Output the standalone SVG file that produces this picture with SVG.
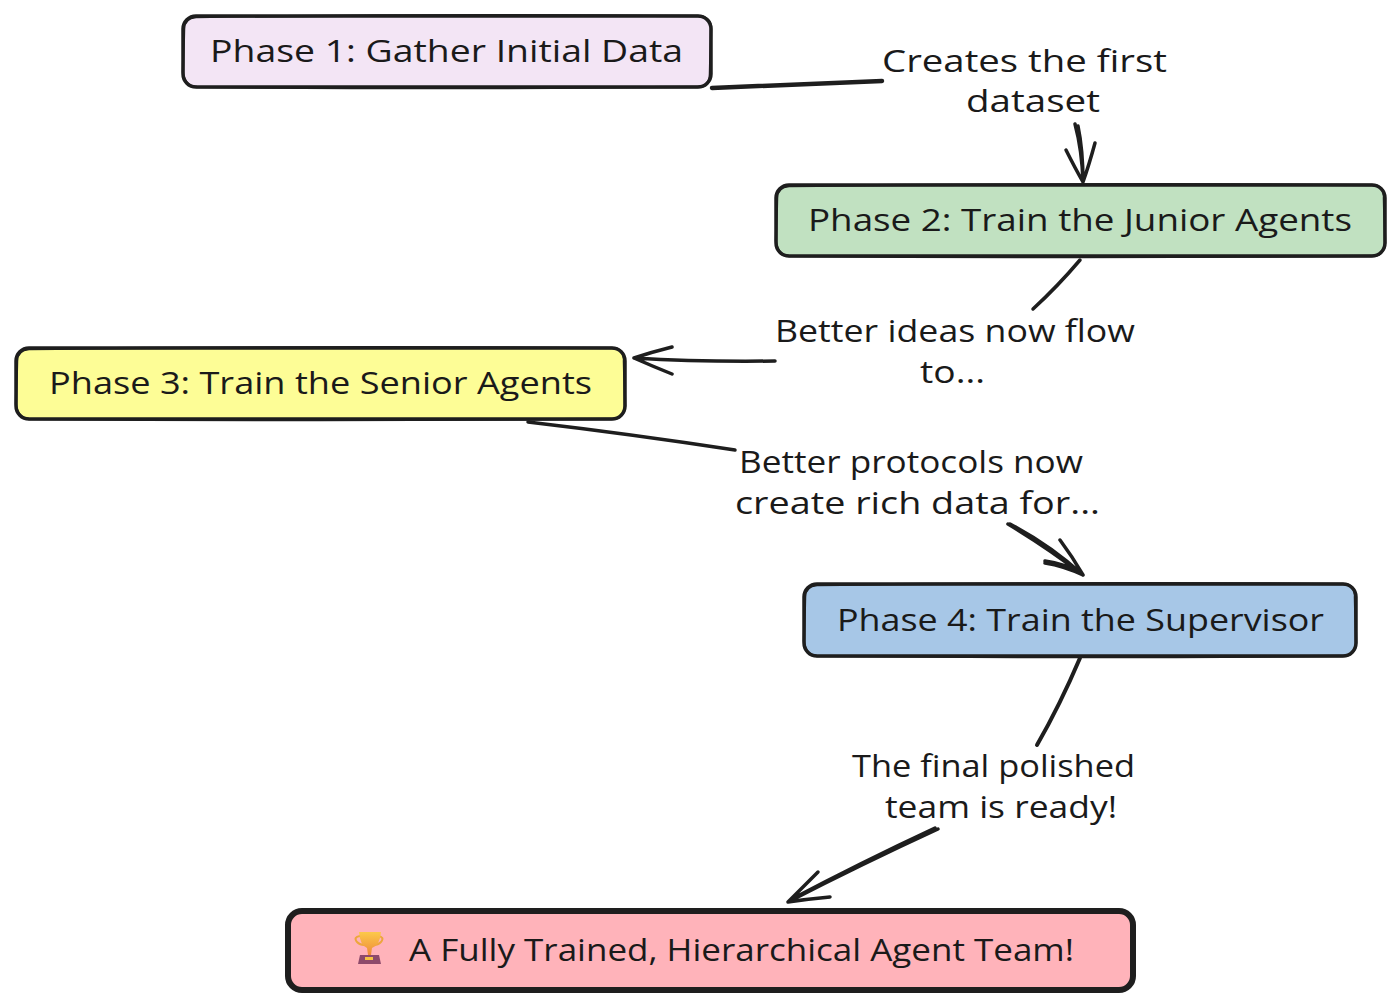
<svg xmlns="http://www.w3.org/2000/svg" width="1400" height="1006" viewBox="0 0 1400 1006">
<style>
text{font-family:"Open Sans","Liberation Sans",sans-serif;font-size:31px;fill:#1a1a1a;letter-spacing:0}
.box{stroke:#1e1e1e;stroke-width:3.5;stroke-linejoin:round;stroke-linecap:round}
.sk{fill:none;stroke:#1e1e1e;stroke-width:2.5;stroke-linecap:round}
.c{fill:none;stroke:#1e1e1e;stroke-width:3.5;stroke-linecap:round;stroke-linejoin:round}
</style>
<defs>
<linearGradient id="gold" x1="0" y1="0" x2="0" y2="1"><stop offset="0" stop-color="#fcc94a"/><stop offset="1" stop-color="#ee8a3a"/></linearGradient>
</defs>
<rect width="1400" height="1006" fill="#fff"/>
<g id="connectors">
<path class="c" style="stroke-width:4.5" d="M712 88 L882 81"/>
<path class="c" d="M1075 124 Q1082 150 1083 182 M1078 126 Q1083 150 1083 182 M1066 150 Q1075 168 1083 182 M1095 143 Q1089 165 1083 182"/>
<path class="c" d="M1080 260 Q1058 286 1033 309"/>
<path class="c" d="M775 361 Q700 362 634 358 M672 347 Q652 352 634 358 M672 374 Q652 366 634 358"/>
<path class="c" d="M528 422 Q630 434 735 450"/>
<path class="c" d="M1008 524 Q1048 548 1083 575 M1010 524 Q1050 545 1083 575 M1060 540 Q1072 556 1083 575 M1045 563 Q1064 566 1083 575 M1045 561 Q1064 564 1080 572"/>
<path class="c" style="stroke-width:4" d="M1080 658 Q1060 705 1037 745"/>
<path class="c" d="M938 829 Q862 864 788 902 M935 828 Q862 862 790 900 M818 872 Q802 888 788 902 M830 897 Q808 899 788 902"/>
</g>
<g id="phase1">
<rect class="box" x="183" y="16" width="528" height="71" rx="13" fill="#f3e5f5"/>
<path class="sk" d="M196 17 Q450 14 698 16 Q712 17 711 30 L710 74 Q710 87 697 87 Q450 89 197 87 Q184 86 183 72 L184 29 Q184 18 196 17"/>
<text x="210" y="62" textLength="473" lengthAdjust="spacingAndGlyphs">Phase 1: Gather Initial Data</text>
</g>
<g id="phase2">
<rect class="box" x="776" y="185" width="609" height="71" rx="13" fill="#c1e1c1"/>
<path class="sk" d="M789 186 Q1080 183 1372 185 Q1385 186 1384 198 L1385 243 Q1384 256 1371 256 Q1080 258 789 256 Q777 255 776 241 L777 198 Q777 187 789 186"/>
<text x="808" y="231" textLength="544" lengthAdjust="spacingAndGlyphs">Phase 2: Train the Junior Agents</text>
</g>
<g id="phase3">
<rect class="box" x="16" y="348" width="609" height="71" rx="13" fill="#fdfd96"/>
<path class="sk" d="M29 349 Q320 346 612 348 Q625 349 624 361 L625 406 Q624 419 611 419 Q320 421 29 419 Q17 418 16 404 L17 361 Q17 350 29 349"/>
<text x="49" y="394" textLength="543" lengthAdjust="spacingAndGlyphs">Phase 3: Train the Senior Agents</text>
</g>
<g id="phase4">
<rect class="box" x="804" y="584" width="552" height="72" rx="13" fill="#a7c7e7"/>
<path class="sk" d="M817 585 Q1080 582 1343 584 Q1356 585 1355 597 L1356 643 Q1355 656 1342 656 Q1080 658 817 656 Q805 655 804 641 L805 597 Q805 586 817 585"/>
<text x="837" y="631" textLength="487" lengthAdjust="spacingAndGlyphs">Phase 4: Train the Supervisor</text>
</g>
<g id="result">
<rect class="box" style="stroke-width:6" x="288" y="911" width="845" height="79" rx="14" fill="#ffb3ba"/>
<g id="trophy">
<path d="M360 936 Q353 937 357 942 Q360 945 364 945 M378 936 Q385 937 381 942 Q378 945 374 945" fill="none" stroke="#eda63c" stroke-width="2"/>
<path d="M359 932 H381 Q380 945 372 948 L371 955 H368 L367 948 Q360 945 359 932Z" fill="url(#gold)"/>
<path d="M360 955 H379 L381 964 H358Z" fill="#8d4a6b"/>
<rect x="365" y="957" width="8" height="3" fill="#f5c242"/>
</g>
<text x="409" y="961" textLength="665" lengthAdjust="spacingAndGlyphs">A Fully Trained, Hierarchical Agent Team!</text>
</g>
<g id="labels">
<text x="882" y="72" textLength="285" lengthAdjust="spacingAndGlyphs">Creates the first</text>
<text x="966" y="112" textLength="134" lengthAdjust="spacingAndGlyphs">dataset</text>
<text x="775" y="342" textLength="360" lengthAdjust="spacingAndGlyphs">Better ideas now flow</text>
<text x="920" y="383" textLength="65" lengthAdjust="spacingAndGlyphs">to...</text>
<text x="739" y="473" textLength="344" lengthAdjust="spacingAndGlyphs">Better protocols now</text>
<text x="735" y="514" textLength="365" lengthAdjust="spacingAndGlyphs">create rich data for...</text>
<text x="852" y="777" textLength="283" lengthAdjust="spacingAndGlyphs">The final polished</text>
<text x="885" y="818" textLength="232" lengthAdjust="spacingAndGlyphs">team is ready!</text>
</g>
</svg>
